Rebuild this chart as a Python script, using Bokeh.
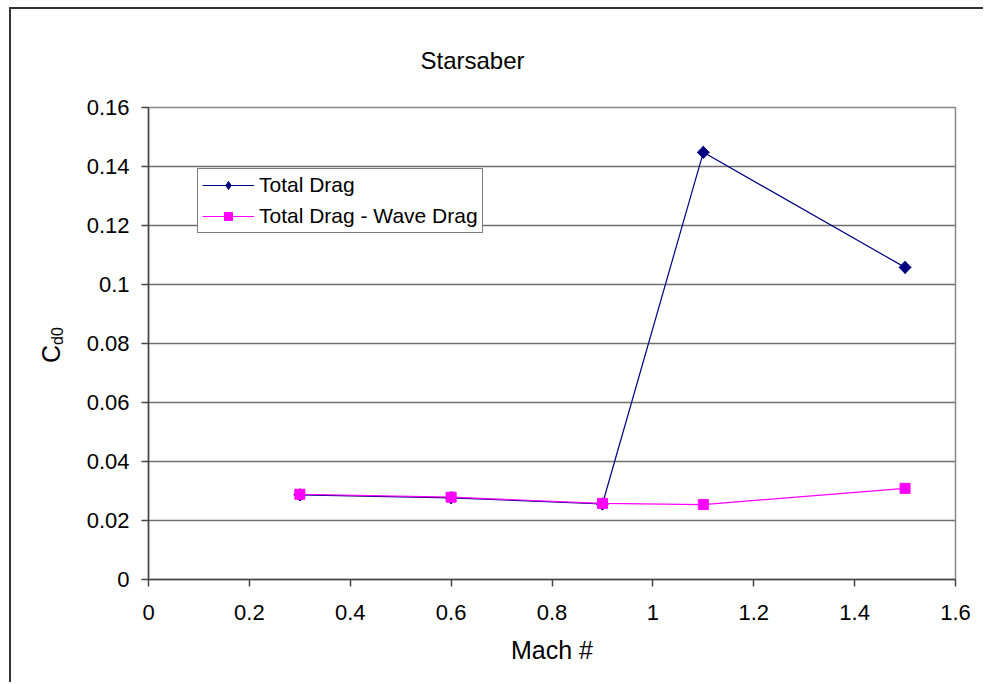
import math
from bokeh.plotting import figure
from bokeh.models import Range1d, FixedTicker, Legend, LegendItem, Title, Div
from bokeh.layouts import column
from bokeh.embed import file_html
from bokeh.resources import INLINE

# ---- data ----
mach = [0.3, 0.6, 0.9, 1.1, 1.5]
total_drag = [0.0287, 0.0277, 0.0256, 0.1448, 0.1058]
total_minus_wave = [0.0289, 0.0279, 0.0258, 0.0254, 0.0309]
x_ticks = [0, 0.2, 0.4, 0.6, 0.8, 1.0, 1.2, 1.4, 1.6]
x_tick_labels = ["0", "0.2", "0.4", "0.6", "0.8", "1", "1.2", "1.4", "1.6"]
y_ticks = [0, 0.02, 0.04, 0.06, 0.08, 0.10, 0.12, 0.14, 0.16]
y_tick_labels = ["0", "0.02", "0.04", "0.06", "0.08", "0.1", "0.12", "0.14", "0.16"]
title_text = "Starsaber"
x_label = "Mach #"
y_label_main = "C"
y_label_sub = "d0"
series_names = ["Total Drag", "Total Drag - Wave Drag"]

FONT = "Liberation Sans"

p = figure(width=974, height=675, output_backend="svg", toolbar_location=None,
           x_range=Range1d(0, 1.6), y_range=Range1d(0, 0.16),
           min_border_left=137, min_border_right=30, min_border_top=98, min_border_bottom=105)
p.styles = {"margin-left": "9px", "margin-top": "7px",
            "border-left": "2px solid #333333", "border-top": "2px solid #333333"}

p.background_fill_color = "white"
p.border_fill_color = "white"
p.outline_line_color = "#888888"
p.outline_line_width = 1.5

for ax in (p.xaxis[0], p.yaxis[0]):
    ax.axis_line_color = "#444444"
    ax.axis_line_width = 1.5
    ax.major_tick_line_color = "#444444"
    ax.major_tick_line_width = 1.5
    ax.major_tick_out = 7
    ax.major_tick_in = 0
    ax.minor_tick_line_color = None
    ax.major_label_text_font = FONT
    ax.major_label_text_font_size = "22px"
    ax.major_label_text_color = "black"

p.xaxis.ticker = FixedTicker(ticks=x_ticks)
p.yaxis.ticker = FixedTicker(ticks=y_ticks)
p.xaxis.major_label_overrides = {t: l for t, l in zip(x_ticks, x_tick_labels)}
p.yaxis.major_label_overrides = {t: l for t, l in zip(y_ticks, y_tick_labels)}
p.xaxis.major_label_standoff = 18
p.yaxis.major_label_standoff = 12

p.xaxis.axis_label = x_label
p.xaxis.axis_label_text_font = FONT
p.xaxis.axis_label_text_font_size = "25px"
p.xaxis.axis_label_text_font_style = "normal"
p.xaxis.axis_label_text_color = "black"
p.xaxis.axis_label_standoff = 13

p.xgrid.grid_line_color = None
p.ygrid.grid_line_color = "#6e6e6e"
p.ygrid.grid_line_width = 1.5

l1 = p.line(mach, total_drag, line_color="#000080", line_width=1.2)
# diamond used for the legend swatch; covered in the plot by the rotated square below
s1_leg = p.scatter(mach, total_drag, marker="diamond", size=12,
                   fill_color="#000080", line_color="#000080")
s1 = p.scatter(mach, total_drag, marker="square", angle=math.pi / 4, size=8.5,
               fill_color="#000080", line_color="#000080")
l2 = p.line(mach, total_minus_wave, line_color="#FF00FF", line_width=1.2)
s2 = p.scatter(mach, total_minus_wave, marker="square", size=10,
               fill_color="#FF00FF", line_color="#FF00FF")

legend = Legend(items=[LegendItem(label=series_names[0], renderers=[l1, s1_leg]),
                       LegendItem(label=series_names[1], renderers=[l2, s2])],
                location=(49, 346), orientation="vertical")
legend.border_line_color = "black"
legend.border_line_width = 1
legend.background_fill_color = "white"
legend.background_fill_alpha = 1
legend.label_text_font = FONT
legend.label_text_font_size = "21px"
legend.label_text_color = "black"
legend.glyph_width = 52
legend.glyph_height = 20
legend.label_height = 20
legend.label_standoff = 5
legend.spacing = 7
legend.padding = 4
legend.margin = 0
p.add_layout(legend)

# title
t = Title(text=title_text, align="left", offset=272, standoff=67,
          text_font=FONT, text_font_size="24px", text_font_style="normal",
          text_color="black")
p.add_layout(t, "above")

# y-axis label: C with subscript d0 (rotated HTML text over the left margin)
ylab = Div(text=(f"<div style=\"font-family:'{FONT}';font-size:25px;line-height:30px;"
                 f"text-align:center;white-space:nowrap;color:black;\">{y_label_main}"
                 f"<sub style=\"font-size:16px;vertical-align:-3px;\">{y_label_sub}</sub></div>"),
           width=60, height=30)
ylab.styles = {"position": "absolute", "left": "16px", "top": "313px",
               "transform": "rotate(-90deg)", "transform-origin": "50% 50%"}

layout = column(p, ylab)
open("out.html", "w").write(file_html(layout, INLINE))
